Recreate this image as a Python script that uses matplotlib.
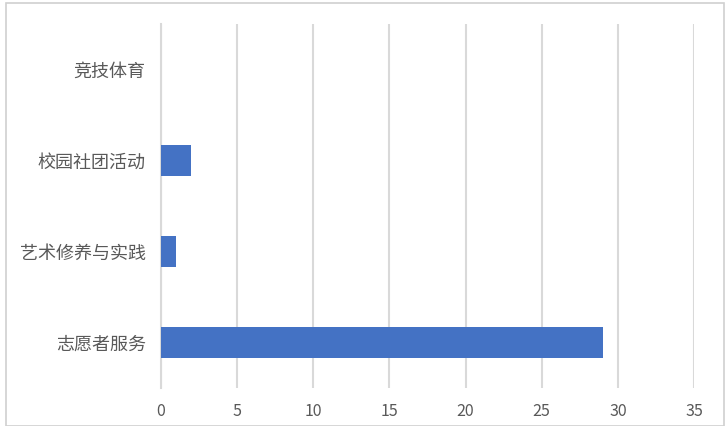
import matplotlib.pyplot as plt
from matplotlib.patches import Rectangle

# 数据（从下到上）
categories = ['志愿者服务', '艺术修养与实践', '校园社团活动', '竞技体育']
values = [29, 1, 2, 0]
x_ticks = [0, 5, 10, 15, 20, 25, 30, 35]

plt.rcParams['font.family'] = ['Noto Sans CJK SC', 'DejaVu Sans']

fig = plt.figure(figsize=(7.26, 4.26), dpi=100)
ax = fig.add_axes([161 / 726, 1 - 388 / 426, (694 - 161) / 726, (388 - 24) / 426])

ax.barh(range(len(categories)), values, height=0.35, color='#4472C4', zorder=3)

ax.set_xlim(0, 35)
ax.set_ylim(-0.5, len(categories) - 0.5)
ax.set_xticks(x_ticks)
ax.set_yticks(range(len(categories)))
ax.set_yticklabels(categories, fontsize=13, color='#595959')
ax.tick_params(axis='x', labelsize=11.5, labelcolor='#595959', length=0, pad=11)
ax.tick_params(axis='y', length=0, pad=11)

ax.grid(axis='x', color='#d9d9d9', linewidth=1.5, zorder=0)
for side in ['top', 'right', 'bottom']:
    ax.spines[side].set_visible(False)
ax.spines['left'].set_color('#d9d9d9')
ax.spines['left'].set_linewidth(1.5)

# 外框
fig.patches.append(Rectangle((6 / 726, 0), 718 / 726, 1 - 3 / 426, transform=fig.transFigure,
                             fill=False, edgecolor='#d0d0d0', linewidth=1.2))

fig.savefig('out.png', dpi=100)
